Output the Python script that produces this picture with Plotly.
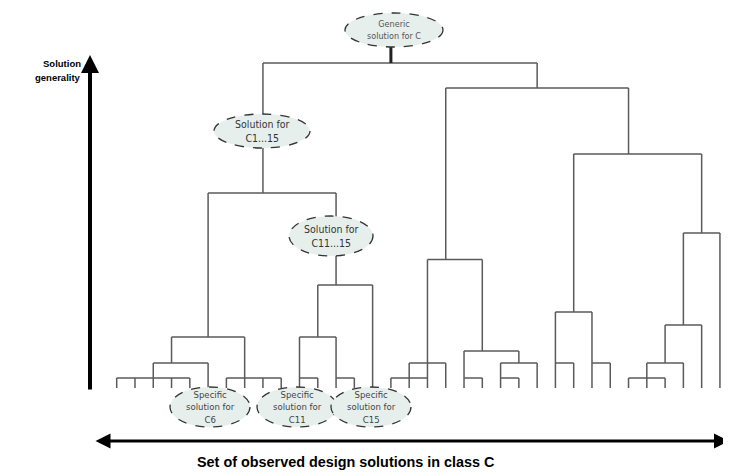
import plotly.graph_objects as go

# ---------------- data ----------------
# leaves are observed design solutions, indexed 0..33 along the x axis
leaf_index = list(range(34))

# horizontal merge bars: left leaf, right leaf, generality height
bar_left = [0, 2, 3, 6, 10, 12, 10, 11, 5, 8,
            15, 16, 17, 19, 19, 21, 21, 18,
            24, 24, 26, 25, 31, 30, 29, 28]
bar_right = [4, 5, 7, 9, 11, 13, 12, 14, 12, 23,
             17, 18, 20, 22, 20, 23, 22, 28,
             26, 25, 27, 32, 33, 32, 31, 30]
bar_height = [10, 25, 51, 10, 10, 10, 51, 103, 195, 325,
              10, 25, 128.5, 37, 10, 25, 10, 300,
              76, 25, 25, 234, 155, 63, 25, 10]

# vertical links: leaf position, lower height, upper height
vert_x = [0, 1, 2, 3, 3, 4, 5, 5, 6, 7, 8, 8, 9, 10, 11, 11, 12, 12, 13, 14,
          15, 16, 17, 18, 18, 19, 20, 20, 21, 22, 22, 23, 23,
          24, 25, 25, 26, 27, 28, 28, 29, 30, 30, 31, 31, 32, 32, 33]
vert_lo = [0, 0, 0, 0, 25, 0, 0, 51, 0, 0, 0, 195, 0, 0, 0, 51, 0, 103, 0, 0,
           0, 0, 0, 0, 128.5, 0, 0, 37, 0, 0, 25, 0, 300,
           0, 0, 76, 0, 0, 0, 234, 0, 0, 25, 0, 63, 0, 155, 0]
vert_hi = [10, 10, 25, 10, 51, 10, 25, 195, 10, 51, 10, 325, 10, 51, 10, 103, 51, 195, 10, 103,
           10, 25, 128.5, 25, 300, 37, 10, 128.5, 25, 10, 37, 25, 325,
           76, 25, 234, 76, 25, 10, 300, 25, 10, 63, 25, 155, 63, 234, 155]

root_x = 15
root_lo, root_hi = 325, 341

node_labels = ["Generic<br>solution for C",
               "Solution for<br>C1...15",
               "Solution for<br>C11...15",
               "Specific<br>solution for<br>C6",
               "Specific<br>solution for<br>C11",
               "Specific<br>solution for<br>C15"]

y_axis_label_lines = ["Solution", "generality"]
x_axis_label = "Set of observed design solutions in class C"

# ---------------- layout constants (pixel geometry) ----------------
W, H = 731, 476
PAGE_MARGIN = 8                 # default body margin of the html page
X0_PX, STEP_PX = 116.7, 18.28   # leaf 0 pixel x and leaf spacing
BASE_PY = 388                   # pixel y of height 0

def px_to_x(px):
    return (px - X0_PX) / STEP_PX

def py_to_h(py):
    return BASE_PY - py

# ellipse geometry (centre x px, centre y px, rx px, ry px)
ellipse_geom = [(394, 30, 49, 17),
                (262, 131, 48, 17),
                (331, 236, 42, 20),
                (210, 407, 40, 20),
                (297, 407, 40, 20),
                (371, 407, 40, 20)]
label_sizes = [9, 10.5, 10.5, 9.5, 9.5, 9.5]
label_colors = ["#555555", "#333333", "#333333", "#444444", "#444444", "#444444"]
FONT = "Liberation Sans, Arial, sans-serif"
NARROW = "Liberation Sans Narrow, DejaVu Sans Condensed, Liberation Sans, Arial"

# ---------------- build figure ----------------
lx, ly = [], []
for a, b, h in zip(bar_left, bar_right, bar_height):
    lx += [a, b, None]
    ly += [h, h, None]
for x, lo, hi in zip(vert_x, vert_lo, vert_hi):
    lx += [x, x, None]
    ly += [lo, hi, None]

fig = go.Figure()
fig.add_trace(go.Scatter(x=lx, y=ly, mode="lines",
                         line=dict(color="#5a5a5a", width=1.5),
                         hoverinfo="skip", showlegend=False))
fig.add_trace(go.Scatter(x=[root_x, root_x], y=[root_lo, root_hi], mode="lines",
                         line=dict(color="#222222", width=3),
                         hoverinfo="skip", showlegend=False))

for (cx, cy, rx, ry), txt, fs, col in zip(ellipse_geom, node_labels, label_sizes, label_colors):
    fig.add_shape(type="circle", xref="x", yref="y",
                  x0=px_to_x(cx - rx), x1=px_to_x(cx + rx),
                  y0=py_to_h(cy + ry), y1=py_to_h(cy - ry),
                  fillcolor="#e7efec", line=dict(color="#333333", width=1.3, dash="dash"),
                  layer="above")
    fig.add_annotation(x=px_to_x(cx), y=py_to_h(cy), xref="x", yref="y",
                       text=txt, showarrow=False,
                       font=dict(family=NARROW, size=fs, color=col))

# vertical axis arrow
fig.add_annotation(x=px_to_x(90), y=py_to_h(55), ax=px_to_x(90), ay=py_to_h(391),
                   xref="x", yref="y", axref="x", ayref="y", text="",
                   showarrow=True, arrowhead=2, arrowsize=0.9, arrowwidth=4,
                   arrowcolor="black")
# horizontal double arrow
fig.add_annotation(x=px_to_x(729), y=py_to_h(441), ax=px_to_x(94), ay=py_to_h(441),
                   xref="x", yref="y", axref="x", ayref="y", text="",
                   showarrow=True, arrowhead=2, startarrowhead=2, arrowside="end+start",
                   arrowsize=1, startarrowsize=1, arrowwidth=3, arrowcolor="black")

for txt, py in zip(y_axis_label_lines, [63, 77]):
    fig.add_annotation(x=px_to_x(83), y=py_to_h(py), xref="x", yref="y",
                       text=f"<b>{txt}</b>", showarrow=False, xanchor="right",
                       font=dict(family=FONT, size=9.5, color="black"))
fig.add_annotation(x=px_to_x(345), y=py_to_h(462), xref="x", yref="y",
                   text=f"<b>{x_axis_label}</b>", showarrow=False,
                   font=dict(family=FONT, size=14.4, color="black"))

# the page body adds an 8 px margin; map the figure so reference pixels line up
fig.update_xaxes(range=[px_to_x(PAGE_MARGIN), px_to_x(W)], visible=False, fixedrange=True)
fig.update_yaxes(range=[py_to_h(H), py_to_h(PAGE_MARGIN)], visible=False, fixedrange=True)
fig.update_layout(width=W - PAGE_MARGIN, height=H - PAGE_MARGIN,
                  margin=dict(l=0, r=0, t=0, b=0),
                  plot_bgcolor="white", paper_bgcolor="white", showlegend=False)

fig.write_html("out.html")
